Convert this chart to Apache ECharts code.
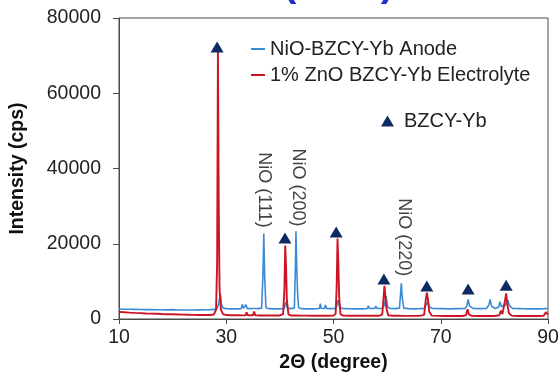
<!DOCTYPE html>
<html><head><meta charset="utf-8">
<script src="https://cdn.jsdelivr.net/npm/echarts@6/dist/echarts.min.js"></script>
<style>html,body{margin:0;padding:0;background:#fff}#c{width:559px;height:372px}</style>
</head><body><div id="c"></div>
<script>
// 2θ (degree) / intensity (cps) pairs
const anode = [
 [10,2650],[11,2600],[12,2580],[13,2550],[14,2520],[15,2500],[16,2480],[17,2460],[18,2440],[19,2420],[20,2480],
 [21,2400],[22,2380],[23,2400],[24,2380],[25,2420],[26,2450],[27,2480],[27.8,2550],[28.3,2800],[28.6,4200],
 [28.9,6600],[29.1,4000],[29.4,2900],[30,2750],[31,2700],[32,2700],[32.8,2750],[33.0,3900],[33.2,2850],[33.5,2800],
 [33.7,3800],[33.9,2800],[34.5,2750],[35.0,2800],[35.2,3300],[35.4,2800],[36.0,2750],[36.6,2900],[36.85,12000],
 [37.0,22700],[37.15,12000],[37.4,3000],[38,2750],[39,2700],[40,2700],[40.8,2800],[41.1,4500],[41.4,2900],[42,2750],
 [42.7,2900],[42.9,14000],[43.0,23300],[43.15,13500],[43.3,7000],[43.5,3000],[44,2750],[45,2700],[46,2700],[47,2750],
 [47.4,2850],[47.55,4100],[47.7,2850],[48.3,2800],[48.5,3700],[48.7,2800],[49.5,2750],[50.3,2800],[50.6,3500],
 [50.85,5000],[51.1,3200],[51.6,2800],[52.5,2750],[54,2700],[55.5,2700],[56.3,2800],[56.5,3500],[56.7,2800],
 [57.7,2800],[57.9,3400],[58.1,2800],[59.0,2800],[59.5,3600],[59.8,6100],[60.1,3200],[60.6,2800],[61.5,2750],
 [62.3,2900],[62.5,6500],[62.65,9500],[62.8,6000],[63.1,2900],[64,2750],[65,2700],[66,2750],[66.9,2800],[67.3,3800],
 [67.6,4600],[67.9,3200],[68.5,2800],[70,2750],[71.5,2700],[73,2750],[74.5,2800],[74.9,3600],[75.1,5200],[75.4,3400],
 [76,2800],[77,2750],[78.5,2800],[79.0,3800],[79.2,5200],[79.5,3400],[80.2,2800],[80.8,3200],[81.05,4600],[81.3,3300],
 [81.6,3000],[82.0,3600],[82.3,4400],[82.5,5050],[82.8,3600],[83.4,2800],[85,2750],[87,2700],[88.5,2700],[89.3,2750],
 [89.6,3000],[90,2800]
];
const electrolyte = [
 [10,1900],[11,1800],[12,1700],[13,1620],[14,1550],[15,1480],[16,1420],[17,1380],[18,1320],[19,1280],[20,1250],
 [21,1200],[22,1150],[23,1120],[24,1100],[25,1080],[26,1050],[27,1050],[27.7,1200],[28.1,2500],[28.3,15000],
 [28.45,71000],[28.6,30000],[28.75,8000],[29,2500],[29.4,1300],[30,1050],[31,1000],[32,980],[33,960],[33.6,980],
 [33.8,1800],[34.0,1000],[35.0,1000],[35.2,2000],[35.4,1000],[36,950],[37,930],[38,920],[39,920],[40,950],[40.6,1300],
 [40.85,8000],[41.0,19500],[41.15,14000],[41.3,5000],[41.6,1200],[42,950],[43,930],[44,900],[45,900],[46,880],[47,880],
 [48,880],[49,870],[50,900],[50.4,1400],[50.6,9000],[50.75,21400],[50.9,15000],[51.05,6000],[51.3,1300],[51.8,900],
 [53,860],[55,850],[57,850],[58.5,850],[59.1,1200],[59.35,6000],[59.5,8800],[59.65,6500],[59.85,3000],[60.2,1000],
 [61,850],[62,850],[63,830],[64,830],[65,820],[66,820],[66.9,1100],[67.2,5000],[67.4,7000],[67.6,5500],[67.85,2000],
 [68.3,900],[69.5,820],[71,800],[72.5,800],[74,800],[74.7,1000],[75.0,2600],[75.25,1200],[75.8,820],[77,800],[78.5,800],
 [80,800],[80.9,1000],[81.2,2200],[81.5,1300],[81.8,1500],[82.05,5500],[82.2,6800],[82.4,4000],[82.7,1600],[83.2,900],
 [84.5,800],[86,800],[88,800],[89.2,850],[89.6,1800],[89.8,2000],[90,1200]
];
// BZCY-Yb peak markers
const bzcyMarks = [[28.3,72300],[40.95,21500],[50.5,23100],[59.4,10600],[67.4,8800],[75.1,8000],[82.2,9000]];
// peak labels
const peakLabels = [
 {name:'NiO (111)', value:[37.05,34300]},
 {name:'NiO (200)', value:[43.3,34950]},
 {name:'NiO (220)', value:[63.1,21700]}
];
const xTicks = {min:10, max:90, interval:20};
const yTicks = {min:0, max:80000, interval:20000};
const seriesNames = ['NiO-BZCY-Yb Anode','1% ZnO BZCY-Yb Electrolyte','BZCY-Yb'];
const titleText = '(XRD)';

const FONT = 'Liberation Sans, Arial, sans-serif';
const chart = echarts.init(document.getElementById('c'), null, {renderer:'canvas'});
chart.setOption({
  animation:false,
  textStyle:{fontFamily:FONT},
  graphic:[{type:'text', left:283, top:-35, style:{text:titleText, font:'bold 40px '+FONT, fill:'#1b2fd6'}}],
  grid:{left:119, right:11, top:18, bottom:53, show:true, borderColor:'#4a4a4a', borderWidth:1,
        containLabel:false, outerBoundsMode:'none'},
  legend:[
    {data:[{name:seriesNames[0], icon:'rect'},{name:seriesNames[1], icon:'rect'}], orient:'vertical', left:246, top:34,
     itemWidth:14, itemHeight:2, itemGap:6,
     textStyle:{fontSize:20, color:'#222', fontFamily:FONT}},
    {data:[seriesNames[2]], left:376, top:106, itemWidth:13, itemHeight:11,
     textStyle:{fontSize:20, color:'#222', fontFamily:FONT, padding:[0,0,0,5]}}
  ],
  xAxis:{type:'value', min:xTicks.min, max:xTicks.max, interval:xTicks.interval,
    name:'2Θ (degree)', nameLocation:'middle', nameGap:32,
    nameTextStyle:{fontSize:19.5, fontWeight:'bold', color:'#111', fontFamily:FONT},
    axisLine:{lineStyle:{color:'#4a4a4a', width:1}}, axisTick:{show:true, length:5, lineStyle:{color:'#4a4a4a'}},
    axisLabel:{fontSize:19.5, color:'#222', margin:9, fontFamily:FONT}, splitLine:{show:false}},
  yAxis:{type:'value', min:yTicks.min, max:yTicks.max, interval:yTicks.interval,
    name:'Intensity (cps)', nameLocation:'middle', nameGap:91,
    nameTextStyle:{fontSize:19.5, fontWeight:'bold', color:'#111', fontFamily:FONT},
    axisLine:{show:true, lineStyle:{color:'#4a4a4a', width:1}}, axisTick:{show:true, length:6, lineStyle:{color:'#4a4a4a'}},
    axisLabel:{fontSize:19.5, color:'#222', margin:18, fontFamily:FONT, formatter:v=>String(v)}, splitLine:{show:false}},
  series:[
    {name:seriesNames[0], type:'line', data:anode, showSymbol:false, symbol:'none', smooth:false,
     lineStyle:{color:'#3a8bd6', width:1.6}, itemStyle:{color:'#3a8bd6'}, z:2},
    {name:seriesNames[1], type:'line', data:electrolyte, showSymbol:false, symbol:'none', smooth:false,
     lineStyle:{color:'#cc1424', width:1.9}, itemStyle:{color:'#cc1424'}, z:3},
    {name:seriesNames[2], type:'scatter', data:bzcyMarks, symbol:'triangle', symbolSize:[13,11],
     itemStyle:{color:'#0e2a62', opacity:1}, z:4},
    {name:'labels', type:'scatter', data:peakLabels, symbolSize:0, silent:true, z:5,
     label:{show:true, position:'inside', rotate:-90, formatter:p=>p.name, fontSize:18, color:'#111', fontFamily:FONT}}
  ]
});
</script></body></html>
